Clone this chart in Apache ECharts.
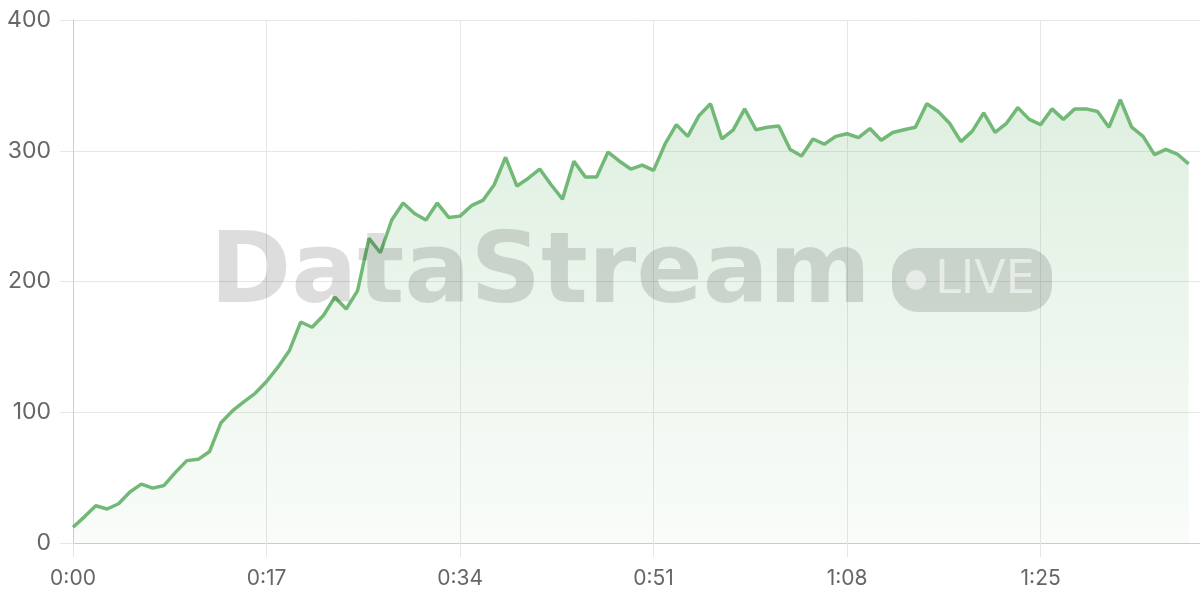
<!DOCTYPE html>
<html>
<head>
<meta charset="utf-8">
<script src="https://cdn.jsdelivr.net/npm/echarts@6/dist/echarts.min.js"></script>
<style>
html,body{margin:0;padding:0;background:#fff;}
#c{width:1200px;height:600px;}
</style>
</head>
<body>
<div id="c"></div>
<script>
// Seconds elapsed (one category per second, 0:00 .. 1:39)
const seconds = Array.from({length: 100}, (_, i) => i);
const timeLabels = seconds.map(s => Math.floor(s / 60) + ':' + String(s % 60).padStart(2, '0'));
// Viewer count per second (last slot pending)
const viewers = [
  12, 20, 28.5, 26, 30, 39, 45, 42, 44, 54,
  63, 64, 70, 92, 101, 108, 114.5, 123.5, 134.5, 147,
  169, 165, 174, 188, 179, 193, 233, 222, 247, 260,
  252, 247, 260, 249, 250, 258, 262, 274, 295, 273,
  279, 286, 274, 263, 292, 280, 280, 299, 292, 286,
  289, 285, 305, 320, 311, 327, 336, 309, 316, 332,
  316, 318, 319, 301, 296, 309, 305, 311, 313, 310,
  317, 308, 314, 316, 318, 336, 330, 321, 307, 315,
  329, 314, 321, 333, 324, 320, 332, 324, 332, 332,
  330, 318, 339, 318, 311, 297, 301, 297.5, 290
];
const yTicks = [0, 100, 200, 300, 400];
const watermarkText = 'DataStream';
const badgeText = 'LIVE';

const chart = echarts.init(document.getElementById('c'));
chart.setOption({
  animation: false,
  backgroundColor: '#ffffff',
  grid: {left: 73, right: 0, top: 20, bottom: 57, containLabel: false},
  xAxis: {
    type: 'category',
    data: timeLabels,
    boundaryGap: false,
    axisLine: {show: true, lineStyle: {color: '#cccccc', width: 1}},
    axisTick: {show: true, interval: 16, length: 14, lineStyle: {color: '#e6e6e6'}},
    axisLabel: {interval: 16, color: '#666666', fontSize: 21, fontFamily: 'Inter', margin: 25},
    splitLine: {show: true, interval: 16, lineStyle: {color: '#e6e6e6', width: 1}}
  },
  yAxis: {
    type: 'value',
    min: yTicks[0],
    max: yTicks[yTicks.length - 1],
    interval: 100,
    axisLine: {show: true, lineStyle: {color: '#cccccc', width: 1}},
    axisTick: {show: true, length: 13, lineStyle: {color: '#e6e6e6'}},
    axisLabel: {color: '#666666', fontSize: 23, fontFamily: 'Inter', margin: 22},
    splitLine: {show: true, lineStyle: {color: '#e6e6e6', width: 1}}
  },
  series: [{
    type: 'line',
    data: viewers,
    showSymbol: false,
    symbol: 'none',
    smooth: false,
    lineStyle: {color: '#72b977', width: 3.5},
    itemStyle: {color: '#72b977'},
    areaStyle: {
      color: new echarts.graphic.LinearGradient(0, 0, 0, 1, [
        {offset: 0, color: 'rgba(114,185,119,0.32)'},
        {offset: 1, color: 'rgba(114,185,119,0.06)'}
      ])
    },
    z: 2
  }],
  graphic: [
    {
      type: 'text', z: 100, silent: true,
      x: 210, y: 277,
      style: {
        text: watermarkText,
        fill: 'rgba(0,0,0,0.135)',
        font: 'bold 98px "DejaVu Sans"',
        align: 'left',
        verticalAlign: 'middle'
      }
    },
    {
      type: 'rect', z: 100, silent: true,
      shape: {x: 892, y: 248, width: 160, height: 64, r: 26},
      style: {fill: 'rgba(0,0,0,0.135)'}
    },
    {
      type: 'circle', z: 101, silent: true,
      shape: {cx: 916, cy: 280, r: 10},
      style: {fill: 'rgba(255,255,255,0.55)'}
    },
    {
      type: 'text', z: 101, silent: true,
      x: 985, y: 281,
      style: {
        text: badgeText,
        fill: 'rgba(255,255,255,0.55)',
        font: '46px "DejaVu Sans"',
        align: 'center',
        verticalAlign: 'middle'
      }
    }
  ]
});
</script>
</body>
</html>
